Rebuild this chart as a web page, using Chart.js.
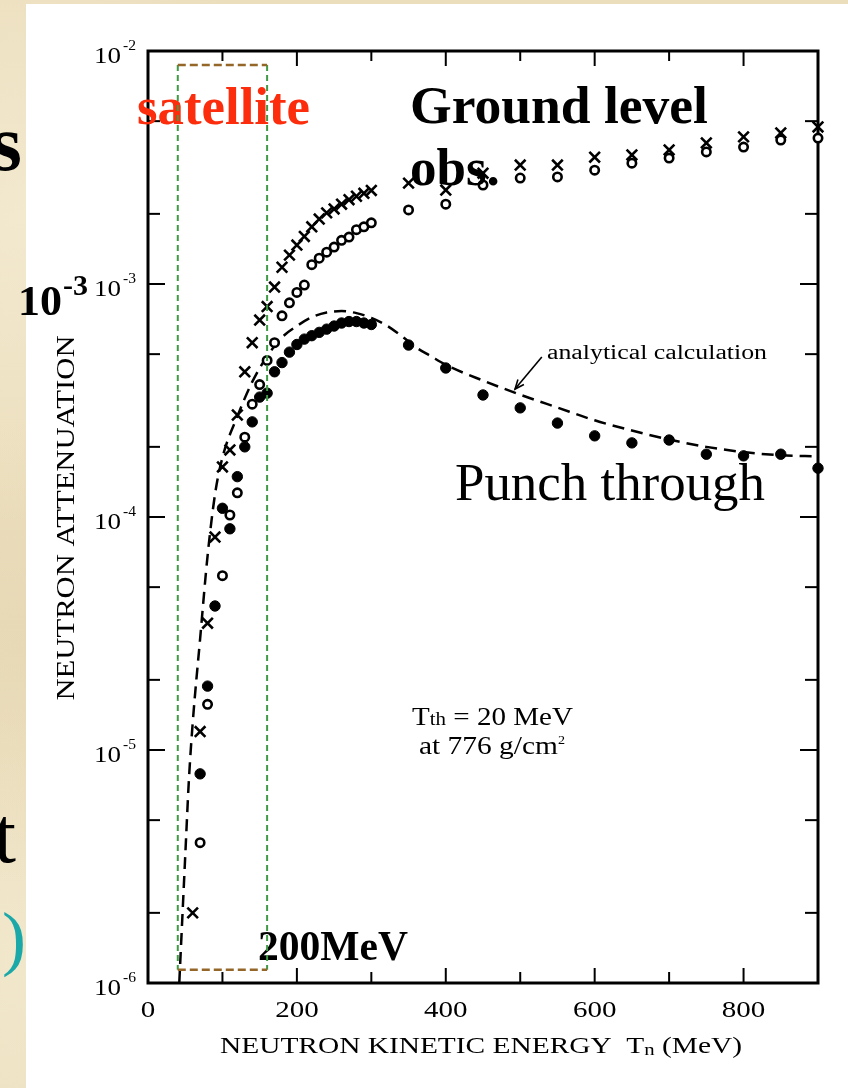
<!DOCTYPE html>
<html>
<head>
<meta charset="utf-8">
<script src="https://cdn.jsdelivr.net/npm/chart.js@4.4.1/dist/chart.umd.min.js"></script>
<style>
  html, body { margin: 0; padding: 0; }
  body {
    width: 848px; height: 1088px; position: relative; overflow: hidden;
    background:
      radial-gradient(ellipse at 2% 20%, rgba(248,240,218,.6), transparent 25%),
      radial-gradient(ellipse at 2% 60%, rgba(226,210,172,.45), transparent 25%),
      radial-gradient(ellipse at 2% 88%, rgba(246,238,214,.55), transparent 25%),
      #ebdebd;
  }
  #panel { position: absolute; left: 26px; top: 4px; width: 822px; height: 1084px; background: #fff; }
  #chart { position: absolute; left: 0; top: 0; }
</style>
</head>
<body>
<div id="panel"></div>
<canvas id="chart" width="848" height="1088"></canvas>
<script>
// ---- data ----
const crossEnergy = [60, 70, 80, 90, 100, 110, 120, 130, 140, 150, 160, 170, 180, 190, 200, 210, 220, 230, 240, 250, 260, 270, 280, 290, 300,
  350, 400, 450, 500, 550, 600, 650, 700, 750, 800, 850, 900];
const crossValues = [2.0e-6, 1.2e-5, 3.5e-5, 8.2e-5, 1.64e-4, 1.94e-4, 2.74e-4, 4.2e-4, 5.6e-4, 7.0e-4, 8.0e-4, 9.7e-4, 1.18e-3, 1.33e-3, 1.47e-3,
  1.6e-3, 1.76e-3, 1.9e-3, 2.02e-3, 2.1e-3, 2.2e-3, 2.3e-3, 2.38e-3, 2.45e-3, 2.52e-3,
  2.71e-3, 2.53e-3, 2.99e-3, 3.24e-3, 3.24e-3, 3.5e-3, 3.58e-3, 3.76e-3, 4.03e-3, 4.28e-3, 4.45e-3, 4.72e-3];

const openEnergy = [70, 80, 100, 110, 120, 130, 140, 150, 160, 170, 180, 190, 200, 210, 220, 230, 240, 250, 260, 270, 280, 290, 300,
  350, 400, 450, 500, 550, 600, 650, 700, 750, 800, 850, 900];
const openValues = [4.0e-6, 1.57e-5, 5.6e-5, 1.02e-4, 1.27e-4, 2.2e-4, 3.05e-4, 3.7e-4, 4.7e-4, 5.6e-4, 7.3e-4, 8.3e-4, 9.2e-4, 9.9e-4,
  1.21e-3, 1.29e-3, 1.37e-3, 1.44e-3, 1.54e-3, 1.59e-3, 1.71e-3, 1.76e-3, 1.83e-3,
  2.08e-3, 2.2e-3, 2.66e-3, 2.85e-3, 2.88e-3, 3.08e-3, 3.3e-3, 3.47e-3, 3.69e-3, 3.87e-3, 4.15e-3, 4.23e-3];

const filledEnergy = [70, 80, 90, 100, 110, 120, 130, 140, 150, 160, 170, 180, 190, 200, 210, 220, 230, 240, 250, 260, 270, 280, 290, 300,
  350, 400, 450, 500, 550, 600, 650, 700, 750, 800, 850, 900];
const filledValues = [7.9e-6, 1.88e-5, 4.15e-5, 1.09e-4, 8.9e-5, 1.49e-4, 2.0e-4, 2.56e-4, 3.27e-4, 3.4e-4, 4.2e-4, 4.6e-4, 5.1e-4, 5.5e-4,
  5.8e-4, 6.0e-4, 6.2e-4, 6.4e-4, 6.6e-4, 6.8e-4, 6.9e-4, 6.9e-4, 6.8e-4, 6.7e-4,
  5.47e-4, 4.36e-4, 3.34e-4, 2.94e-4, 2.53e-4, 2.23e-4, 2.08e-4, 2.14e-4, 1.86e-4, 1.83e-4, 1.86e-4, 1.62e-4];

// analytical calculation (dashed curve)
const calcEnergy = [42, 45, 50, 55, 60, 70, 80, 90, 100, 120, 140, 160, 180, 200, 220, 240, 260, 280, 300, 320, 340, 360, 380, 400,
  450, 500, 550, 600, 650, 700, 750, 800, 850, 900];
const calcValues = [1.0e-6, 1.6e-6, 3.5e-6, 7.5e-6, 1.3e-5, 3.0e-5, 6.8e-5, 1.25e-4, 1.8e-4, 2.7e-4, 3.8e-4, 4.9e-4, 5.9e-4, 6.6e-4,
  7.2e-4, 7.55e-4, 7.65e-4, 7.5e-4, 7.15e-4, 6.65e-4, 6.0e-4, 5.35e-4, 4.9e-4, 4.5e-4,
  3.85e-4, 3.35e-4, 2.95e-4, 2.6e-4, 2.35e-4, 2.15e-4, 2.0e-4, 1.9e-4, 1.84e-4, 1.82e-4];

// axes
const xMajorTicks = [0, 200, 400, 600, 800];
const xMinorTicks = [100, 300, 500, 700];
const yMajorTicks = [1e-6, 1e-5, 1e-4, 1e-3, 1e-2];
const yMinorTicks = [2e-6, 5e-6, 2e-5, 5e-5, 2e-4, 5e-4, 2e-3, 5e-3];
const yTickExponents = ['-6', '-5', '-4', '-3', '-2'];

// "satellite" box, in data units
const boxEnergy = [40, 160];
const boxValues = [1.14e-6, 8.7e-3];

// arrow to the dashed curve, in data units (tail, tip)
const arrowEnergy = [529, 493];
const arrowValues = [4.86e-4, 3.54e-4];

const SERIF = '"Liberation Serif", "Times New Roman", serif';

function pts(xs, ys) {
  return xs.map((x, i) => ({ x, y: ys[i] }));
}

// draw a row of text pieces, optionally stretched to a width
function runs(ctx, parts, x, y, width, align) {
  ctx.save();
  let total = 0;
  parts.forEach(p => { ctx.font = p.font; p.w = ctx.measureText(p.t).width; total += p.w; });
  const sx = width ? width / total : 1;
  const full = total * sx;
  let start = x;
  if (align === 'center') start = x - full / 2;
  if (align === 'right') start = x - full;
  ctx.translate(start, y);
  ctx.scale(sx, 1);
  let cx = 0;
  parts.forEach(p => {
    ctx.font = p.font;
    ctx.fillStyle = p.color || '#000';
    ctx.textAlign = 'left';
    ctx.textBaseline = 'alphabetic';
    ctx.fillText(p.t, cx, p.dy || 0);
    cx += p.w;
  });
  ctx.restore();
}

const figurePlugin = {
  id: 'figure',
  beforeDatasetsDraw(chart) {
    const { ctx, chartArea: a, scales: { x, y } } = chart;
    ctx.save();
    ctx.strokeStyle = '#000';

    // inward ticks on all four sides
    ctx.lineWidth = 2;
    const vt = (v, len, top) => {
      const px = x.getPixelForValue(v);
      ctx.beginPath();
      if (top) { ctx.moveTo(px, a.top); ctx.lineTo(px, a.top + len); }
      else { ctx.moveTo(px, a.bottom); ctx.lineTo(px, a.bottom - len); }
      ctx.stroke();
    };
    xMajorTicks.forEach(v => { vt(v, 15, false); vt(v, 15, true); });
    xMinorTicks.forEach(v => { vt(v, 11, false); vt(v, 10, true); });
    const ht = (v, len, right) => {
      const py = y.getPixelForValue(v);
      ctx.beginPath();
      if (right) { ctx.moveTo(a.right, py); ctx.lineTo(a.right - len, py); }
      else { ctx.moveTo(a.left, py); ctx.lineTo(a.left + len, py); }
      ctx.stroke();
    };
    yMajorTicks.forEach(v => { ht(v, 17, false); ht(v, 18, true); });
    yMinorTicks.forEach(v => { ht(v, 12, false); ht(v, 13, true); });

    // frame
    ctx.lineWidth = 3;
    ctx.strokeRect(a.left, a.top, a.right - a.left, a.bottom - a.top);

    // tick labels
    xMajorTicks.forEach(v => {
      const s = String(v);
      runs(ctx, [{ t: s, font: '24px ' + SERIF }], x.getPixelForValue(v), 1017, s.length * 14.5, 'center');
    });
    yMajorTicks.forEach((v, i) => {
      const py = y.getPixelForValue(v);
      runs(ctx, [{ t: '10', font: '24px ' + SERIF }], 121, py + 12, 27, 'right');
      runs(ctx, [{ t: yTickExponents[i], font: '15px ' + SERIF }], 123, py - 1, 13, 'left');
    });

    // axis titles
    runs(ctx, [
      { t: 'NEUTRON KINETIC ENERGY  T', font: '24px ' + SERIF },
      { t: 'n', font: '17px ' + SERIF, dy: 2 },
      { t: ' (MeV)', font: '24px ' + SERIF }
    ], 220, 1053, 522, 'left');

    ctx.save();
    ctx.translate(74, 518);
    ctx.rotate(-Math.PI / 2);
    runs(ctx, [{ t: 'NEUTRON ATTENUATION', font: '25px ' + SERIF }], 0, 0, 365, 'center');
    ctx.restore();

    ctx.restore();
  },
  afterDatasetsDraw(chart) {
    const { ctx, scales: { x, y } } = chart;
    ctx.save();

    // figure annotations
    runs(ctx, [{ t: 'analytical calculation', font: '20px ' + SERIF }], 547, 359, 220);
    const tx = x.getPixelForValue(arrowEnergy[0]), ty = y.getPixelForValue(arrowValues[0]);
    const hx = x.getPixelForValue(arrowEnergy[1]), hy = y.getPixelForValue(arrowValues[1]);
    ctx.strokeStyle = '#000';
    ctx.lineWidth = 1.6;
    ctx.beginPath(); ctx.moveTo(tx, ty); ctx.lineTo(hx, hy); ctx.stroke();
    const ang = Math.atan2(hy - ty, hx - tx);
    ctx.beginPath();
    ctx.moveTo(hx - 10 * Math.cos(ang - 0.4), hy - 10 * Math.sin(ang - 0.4));
    ctx.lineTo(hx, hy);
    ctx.lineTo(hx - 10 * Math.cos(ang + 0.4), hy - 10 * Math.sin(ang + 0.4));
    ctx.stroke();

    runs(ctx, [
      { t: 'T', font: '25px ' + SERIF },
      { t: 'th', font: '18px ' + SERIF },
      { t: ' = 20 MeV', font: '25px ' + SERIF }
    ], 412, 725, 161);
    runs(ctx, [
      { t: 'at 776 g/cm', font: '25px ' + SERIF },
      { t: '2', font: '12px ' + SERIF, dy: -10 }
    ], 419, 754, 146);

    // slide overlays
    runs(ctx, [{ t: 'satellite', font: 'bold 52px ' + SERIF, color: '#fb2d0c' }], 137, 124, 173);
    runs(ctx, [{ t: 'Ground level', font: 'bold 53px ' + SERIF }], 410, 123, 298);
    runs(ctx, [{ t: 'obs.', font: 'bold 53px ' + SERIF }], 410, 185);
    runs(ctx, [{ t: 'Punch through', font: '53px ' + SERIF }], 455, 500, 310);
    runs(ctx, [{ t: '200MeV', font: 'bold 42px ' + SERIF }], 258, 960, 150);
    runs(ctx, [{ t: '10', font: 'bold 42px ' + SERIF }], 18, 315, 44);
    runs(ctx, [{ t: '-3', font: 'bold 29px ' + SERIF }], 63, 295, 25);

    // satellite box
    const bl = x.getPixelForValue(boxEnergy[0]), br = x.getPixelForValue(boxEnergy[1]);
    const bt = y.getPixelForValue(boxValues[1]), bb = y.getPixelForValue(boxValues[0]);
    ctx.lineWidth = 2;
    ctx.setLineDash([6, 4]);
    ctx.strokeStyle = '#3f9a45';
    ctx.beginPath();
    ctx.moveTo(bl, bt); ctx.lineTo(bl, bb);
    ctx.moveTo(br, bt); ctx.lineTo(br, bb);
    ctx.stroke();
    ctx.lineWidth = 2.5;
    ctx.setLineDash([8, 4]);
    ctx.strokeStyle = '#946628';
    ctx.beginPath();
    ctx.moveTo(bl, bt); ctx.lineTo(br, bt);
    ctx.moveTo(bl, bb); ctx.lineTo(br, bb);
    ctx.stroke();
    ctx.setLineDash([]);

    // cut-off slide text at the left edge
    runs(ctx, [{ t: 's', font: 'bold 80px ' + SERIF }], 22, 170, null, 'right');
    runs(ctx, [{ t: 't', font: '80px ' + SERIF }], 16, 862, null, 'right');
    runs(ctx, [{ t: ')', font: '72px ' + SERIF, color: '#1aa8a8' }], 26, 962, null, 'right');

    ctx.restore();
  }
};

new Chart(document.getElementById('chart'), {
  type: 'scatter',
  data: {
    datasets: [
      {
        label: 'crosses',
        data: pts(crossEnergy, crossValues),
        pointStyle: 'crossRot',
        pointRadius: 7.5,
        borderColor: '#000',
        borderWidth: 2.6,
        showLine: false,
        clip: false
      },
      {
        label: 'open',
        data: pts(openEnergy, openValues),
        pointStyle: 'circle',
        pointRadius: 4.2,
        borderColor: '#000',
        backgroundColor: '#fff',
        borderWidth: 2.6,
        showLine: false,
        clip: false
      },
      {
        label: 'filled',
        data: pts(filledEnergy, filledValues),
        pointStyle: 'circle',
        pointRadius: 5.2,
        borderColor: '#000',
        backgroundColor: '#000',
        borderWidth: 1,
        showLine: false,
        clip: false
      },
      {
        label: 'analytical calculation',
        data: pts(calcEnergy, calcValues),
        showLine: true,
        pointRadius: 0,
        borderColor: '#000',
        borderWidth: 2.5,
        borderDash: [12, 7],
        cubicInterpolationMode: 'monotone',
        fill: false
      }
    ]
  },
  options: {
    responsive: false,
    animation: false,
    devicePixelRatio: 1,
    layout: { padding: { left: 148, right: 30, top: 51, bottom: 105 } },
    plugins: { legend: { display: false }, tooltip: { enabled: false } },
    scales: {
      x: { type: 'linear', min: 0, max: 900, display: false },
      y: { type: 'logarithmic', min: 1e-6, max: 1e-2, display: false }
    }
  },
  plugins: [figurePlugin]
});
</script>
</body>
</html>
